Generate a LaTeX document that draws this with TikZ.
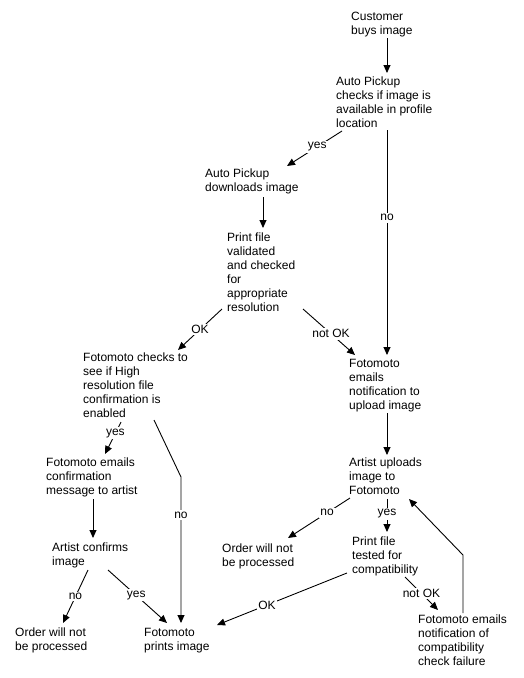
\documentclass[tikz,border=0pt]{standalone}
\usepackage{fontspec}
\setmainfont{Liberation Sans}
\usetikzlibrary{arrows.meta}
\tikzset{
  txt/.style={anchor=north west, inner sep=0pt, align=left, font=\fontsize{12}{14}\selectfont},
  lbl/.style={fill=white, inner sep=1.5pt, font=\fontsize{12}{14}\selectfont},
  conn/.style={line width=0.9pt, draw=black},
  arr/.style={conn, -{Triangle[length=8pt,width=7pt]}}
}
\begin{document}
\begin{tikzpicture}[x=1pt,y=-1pt]
\useasboundingbox (0,0) rectangle (523,678);
% nodes
\node[txt] (cust) at (351,12) {Customer\\buys image};
\node[txt] (auto) at (336,77) {Auto Pickup\\checks if image is\\available in profile\\location};
\node[txt] (down) at (205,169) {Auto Pickup\\downloads image};
\node[txt] (pfile) at (227,233) {Print file\\validated\\and checked\\for\\appropriate\\resolution};
\node[txt] (hires) at (83,353) {Fotomoto checks to\\see if High\\resolution file\\confirmation is\\enabled};
\node[txt] (notify) at (349,359) {Fotomoto\\emails\\notification to\\upload image};
\node[txt] (upload) at (349,458) {Artist uploads\\image to\\Fotomoto};
\node[txt] (confm) at (46,458) {Fotomoto emails\\confirmation\\message to artist};
\node[txt] (artconf) at (52,543) {Artist confirms\\image};
\node[txt] (ordL) at (15,628) {Order will not\\be processed};
\node[txt] (prints) at (144,628) {Fotomoto\\prints image};
\node[txt] (ordM) at (222,544) {Order will not\\be processed};
\node[txt] (compat) at (352,537) {Print file\\tested for\\compatibility};
\node[txt] (fail) at (418,615) {Fotomoto emails\\notification of\\compatibility\\check failure};
% connectors
\draw[arr] ([shift={(36,26)}]cust.north west) -- ([shift={(51,-4)}]auto.north west);
\draw[arr] ([shift={(6,54)}]auto.north west) -- node[lbl,pos=0.45]{yes} ([shift={(82,-3)}]down.north west);
\draw[arr] ([shift={(51,53)}]auto.north west) -- node[lbl,pos=0.39]{no} ([shift={(38,-4)}]notify.north west);
\draw[arr] ([shift={(58,28)}]down.north west) -- ([shift={(36,-5)}]pfile.north west);
\draw[arr] ([shift={(-5,76)}]pfile.north west) -- node[lbl,pos=0.5]{OK} ([shift={(95,-3)}]hires.north west);
\draw[arr] ([shift={(76,76)}]pfile.north west) -- node[lbl,pos=0.54]{not OK} ([shift={(6,-4)}]notify.north west);
\draw[arr] ([shift={(38,54)}]notify.north west) -- ([shift={(38,-3)}]upload.north west);
\draw[arr] ([shift={(1,40)}]upload.north west) -- node[lbl,pos=0.37]{no} ([shift={(66,-6)}]ordM.north west);
\draw[arr] ([shift={(38,41)}]upload.north west) -- node[lbl,pos=0.45]{yes} ([shift={(35,-5)}]compat.north west);
\draw[arr] ([shift={(45,-2)}]fail.north west) -- ([shift={(45,-60)}]fail.north west) -- ([shift={(60,41)}]upload.north west);
\draw[arr] ([shift={(-5,36)}]compat.north west) -- node[lbl,pos=0.615]{OK} ([shift={(73,-3)}]prints.north west);
\draw[arr] ([shift={(53,40)}]compat.north west) -- node[lbl,pos=0.5]{not OK} ([shift={(20,-5)}]fail.north west);
\draw[arr] ([shift={(38,69)}]hires.north west) -- node[lbl,pos=0.35]{yes} ([shift={(59,-4)}]confm.north west);
\draw[arr] ([shift={(71,67)}]hires.north west) -- ([shift={(37,-151)}]prints.north west) -- node[lbl,pos=0.26]{no} ([shift={(37,-5)}]prints.north west);
\draw[arr] ([shift={(47,41)}]confm.north west) -- ([shift={(41,-5)}]artconf.north west);
\draw[arr] ([shift={(36,27)}]artconf.north west) -- node[lbl,pos=0.5]{no} ([shift={(48,-5)}]ordL.north west);
\draw[arr] ([shift={(56,27)}]artconf.north west) -- node[lbl,pos=0.48]{yes} ([shift={(23,-5)}]prints.north west);
\end{tikzpicture}
\end{document}
